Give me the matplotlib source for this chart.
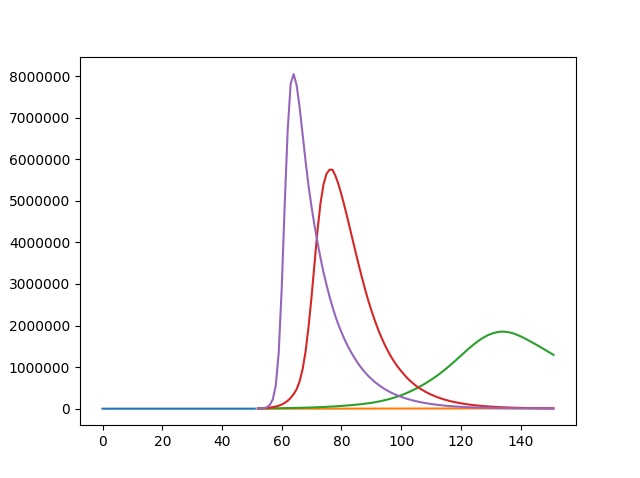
import numpy as np
import matplotlib
matplotlib.use("Agg")
import matplotlib.pyplot as plt

# day index
days_a = list(range(0, 52))
days_b = list(range(52, 152))

# values in millions
blue = [0.0, 0.0, 0.0, 0.0, 0.0, 0.0, 0.0, 0.0, 0.0, 0.0,
        0.0, 0.0, 0.0, 0.0, 0.0, 0.0, 0.0, 0.0, 0.0, 0.0,
        0.0, 0.0, 0.0, 0.0, 0.0, 0.0, 0.0, 0.0, 0.0, 0.0,
        0.0, 0.0, 0.0, 0.0, 0.0, 0.0, 0.0, 0.0, 0.0, 0.0,
        0.0, 0.0, 0.0, 0.0, 0.0, 0.0, 0.0, 0.0, 0.0, 0.0,
        0.0, 0.001]

orange = [0.0001, 0.0001, 0.0001, 0.0001, 0.0002, 0.0002, 0.0002, 0.0002, 0.0003, 0.0003,
          0.0003, 0.0004, 0.0004, 0.0004, 0.0005, 0.0005, 0.0006, 0.0006, 0.0007, 0.0007,
          0.0008, 0.0008, 0.0009, 0.001, 0.001, 0.0011, 0.0012, 0.0012, 0.0013, 0.0014,
          0.0015, 0.0016, 0.0017, 0.0018, 0.0019, 0.002, 0.0021, 0.0022, 0.0023, 0.0024,
          0.0025, 0.0026, 0.0027, 0.0028, 0.0029, 0.003, 0.0031, 0.0032, 0.0033, 0.0034,
          0.0035, 0.0036, 0.0037, 0.0038, 0.0039, 0.004, 0.0041, 0.0042, 0.0043, 0.0044,
          0.0045, 0.0046, 0.0047, 0.0048, 0.0049, 0.005, 0.0051, 0.0052, 0.0053, 0.0054,
          0.0055, 0.0056, 0.0057, 0.0058, 0.0059, 0.006, 0.0061, 0.0062, 0.0063, 0.0064,
          0.0065, 0.0066, 0.0067, 0.0068, 0.0069, 0.007, 0.0071, 0.0072, 0.0073, 0.0074,
          0.0075, 0.0076, 0.0077, 0.0078, 0.0079, 0.008, 0.0081, 0.0082, 0.0083, 0.0084]

green = [0.004, 0.005, 0.006, 0.007, 0.008, 0.009, 0.010, 0.011, 0.012, 0.013,
         0.015, 0.016, 0.018, 0.019, 0.021, 0.023, 0.025, 0.027, 0.030, 0.032,
         0.035, 0.038, 0.041, 0.045, 0.049, 0.053, 0.057, 0.062, 0.067, 0.072,
         0.078, 0.084, 0.090, 0.097, 0.104, 0.112, 0.121, 0.130, 0.140, 0.152,
         0.165, 0.180, 0.196, 0.213, 0.232, 0.252, 0.274, 0.298, 0.324, 0.352,
         0.382, 0.414, 0.448, 0.484, 0.522, 0.562, 0.604, 0.648, 0.694, 0.742,
         0.792, 0.846, 0.902, 0.960, 1.020, 1.082, 1.145, 1.210, 1.275, 1.340,
         1.405, 1.468, 1.528, 1.585, 1.638, 1.686, 1.729, 1.766, 1.797, 1.821,
         1.839, 1.850, 1.854, 1.850, 1.840, 1.823, 1.800, 1.772, 1.740, 1.705,
         1.668, 1.630, 1.590, 1.550, 1.508, 1.466, 1.424, 1.381, 1.338, 1.295]

red = [0.005, 0.008, 0.012, 0.018, 0.026, 0.038, 0.052, 0.072, 0.100, 0.140,
       0.190, 0.260, 0.350, 0.470, 0.660, 0.950, 1.380, 1.980, 2.700, 3.500,
       4.300, 4.950, 5.400, 5.650, 5.750, 5.750, 5.600, 5.400, 5.150, 4.880,
       4.590, 4.290, 3.990, 3.690, 3.400, 3.120, 2.850, 2.600, 2.370, 2.160,
       1.960, 1.780, 1.615, 1.465, 1.330, 1.205, 1.095, 0.995, 0.905, 0.820,
       0.740, 0.670, 0.610, 0.550, 0.500, 0.455, 0.413, 0.375, 0.340, 0.310,
       0.280, 0.255, 0.230, 0.210, 0.190, 0.173, 0.157, 0.143, 0.130, 0.118,
       0.107, 0.097, 0.088, 0.080, 0.073, 0.066, 0.060, 0.055, 0.050, 0.045,
       0.041, 0.037, 0.034, 0.031, 0.028, 0.025, 0.023, 0.021, 0.019, 0.017,
       0.016, 0.014, 0.013, 0.012, 0.011, 0.010, 0.009, 0.008, 0.0075, 0.007]

purple = [0.002, 0.006, 0.015, 0.035, 0.090, 0.220, 0.550, 1.350, 2.900, 4.900,
          6.700, 7.820, 8.050, 7.780, 7.250, 6.600, 5.950, 5.350, 4.850, 4.400,
          4.000, 3.620, 3.280, 2.980, 2.700, 2.450, 2.220, 2.020, 1.840, 1.675,
          1.525, 1.390, 1.265, 1.150, 1.045, 0.950, 0.865, 0.788, 0.718, 0.654,
          0.596, 0.543, 0.495, 0.451, 0.411, 0.375, 0.342, 0.312, 0.285, 0.260,
          0.237, 0.216, 0.197, 0.180, 0.164, 0.149, 0.136, 0.124, 0.113, 0.103,
          0.094, 0.086, 0.078, 0.071, 0.065, 0.059, 0.054, 0.049, 0.045, 0.041,
          0.037, 0.034, 0.031, 0.028, 0.026, 0.024, 0.022, 0.020, 0.018, 0.016,
          0.015, 0.014, 0.013, 0.012, 0.011, 0.010, 0.009, 0.008, 0.0075, 0.007,
          0.0065, 0.006, 0.0055, 0.005, 0.0046, 0.0042, 0.0039, 0.0036, 0.0033, 0.003]

fig, ax = plt.subplots(figsize=(6.4, 4.78), dpi=100)

ax.plot(days_a, np.array(blue) * 1e6)
ax.plot(days_b, np.array(orange) * 1e6)
ax.plot(days_b, np.array(green) * 1e6)
ax.plot(days_b, np.array(red) * 1e6)
ax.plot(days_b, np.array(purple) * 1e6)

ax.ticklabel_format(style="plain", axis="y", useOffset=False)

fig.savefig("out.png")
